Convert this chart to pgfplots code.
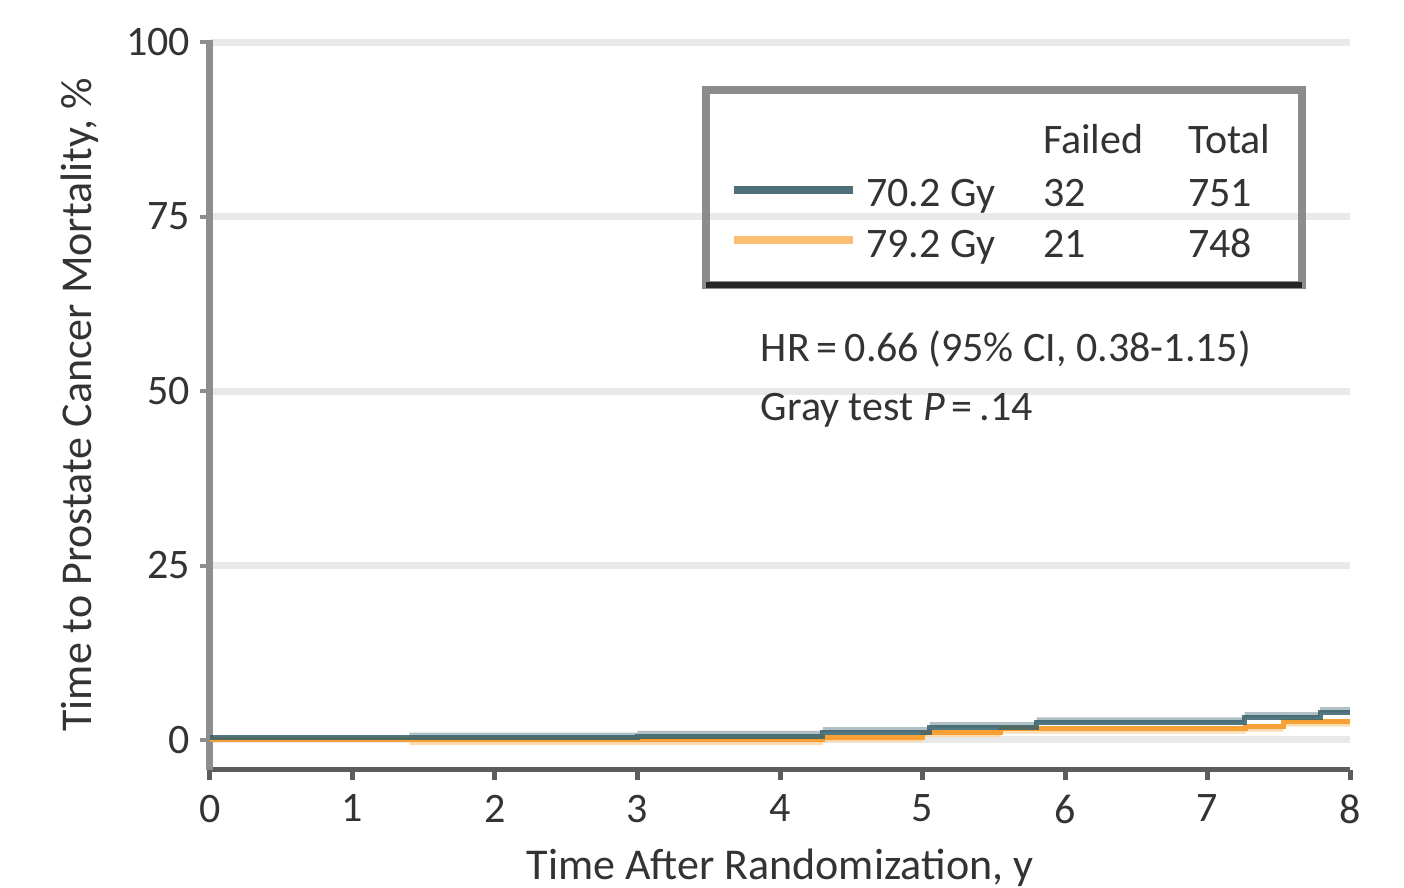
\documentclass[border=0pt]{standalone}
\usepackage{fontspec}
\setmainfont{Carlito}
\usepackage{pgfplots}
\pgfplotsset{compat=1.18}
\usepgfplotslibrary{fillbetween}
\definecolor{tealline}{HTML}{36606B}
\definecolor{tealband}{HTML}{9DB0B5}
\definecolor{orangeline}{HTML}{F7A035}
\definecolor{orangeband}{HTML}{FBD3A0}
\definecolor{legteal}{HTML}{4D7079}
\definecolor{legorange}{HTML}{F9BE72}
\definecolor{xaxc}{HTML}{5C5C5C}
\definecolor{yaxc}{HTML}{8E8E8E}
\definecolor{gridc}{HTML}{E9E9E9}
\definecolor{textc}{HTML}{333333}
\definecolor{boxc}{HTML}{8C8C8C}
\definecolor{boxdark}{HTML}{262626}
\begin{document}
\fontsize{10.5}{12}\selectfont
\begin{tikzpicture}
\begin{axis}[
  scale only axis, width=285pt, height=182.5pt,
  xmin=0, xmax=8, ymin=-4.3, ymax=100.3,
  axis lines=left, axis line style={-},
  x axis line style={draw=xaxc, line width=1.25pt},
  y axis line style={draw=yaxc, line width=1.75pt},
  xtick={0,1,2,3,4,5,6,7,8}, ytick={0,25,50,75,100},
  ymajorgrids, grid style={draw=gridc, line width=1.75pt},
  tick align=outside, major tick length=2.5pt,
  xtick style={draw=xaxc, line width=1.25pt},
  ytick style={draw=yaxc, line width=1pt},
  ticklabel style={font=\fontsize{10.5}{12}\selectfont, text=textc},
  yticklabel style={xshift=1.25pt},
  /pgf/number format/assume math mode=true,
  xlabel={Time After Randomization, y},
  ylabel={Time to Prostate Cancer Mortality, \%},
  label style={font=\fontsize{11}{13}\selectfont, text=textc},
  xlabel style={at={(axis description cs:0.5,-0.134)}, anchor=center},
  ylabel style={at={(axis description cs:-0.114,0.5)}, anchor=center},
  clip=false,
]
\coordinate (SW) at (rel axis cs:0,0);
% confidence bands
\addplot[name path=tu, draw=none, const plot, forget plot] coordinates {
 (1.4,1.05) (3.0,1.3) (4.30,1.85) (5.05,2.55) (5.8,3.25) (7.26,4.0) (7.79,4.7) (8,4.7)};
\addplot[name path=tl, draw=none, const plot, forget plot] coordinates {
 (1.4,0.3) (3.0,0.5) (4.30,1.1) (5.05,1.8) (5.8,2.5) (7.26,3.25) (7.79,3.97) (8,3.97)};
\addplot[fill=tealband, fill opacity=0.8, draw=none, forget plot] fill between[of=tu and tl];
\addplot[name path=ou, draw=none, const plot, forget plot] coordinates {
 (1.4,0) (4.30,0.4) (5.0,1.1) (5.55,1.6) (7.27,1.9) (7.53,2.6) (8,2.6)};
\addplot[name path=ol, draw=none, const plot, forget plot] coordinates {
 (1.4,-0.7) (4.30,-0.3) (5.0,0.4) (5.55,0.9) (7.27,1.2) (7.53,1.9) (8,1.9)};
\addplot[fill=orangeband, fill opacity=0.8, draw=none, forget plot] fill between[of=ou and ol];
% curves
\addplot[const plot, draw=orangeline, line width=1.25pt] coordinates {
 (0,0) (4.30,0.4) (5.0,1.1) (5.55,1.6) (7.27,1.9) (7.53,2.6) (8,2.6)};
\addplot[const plot, draw=tealline, line width=1.25pt, opacity=0.85] coordinates {
 (0,0.3) (3.0,0.5) (4.30,1.1) (5.05,1.8) (5.8,2.5) (7.26,3.25) (7.79,3.97) (8,3.97)};
% legend box
\draw[boxc, line width=2pt] (axis cs:3.48,65.2) rectangle (axis cs:7.66,93.1);
\draw[boxdark, line width=1.3pt] (axis cs:3.48,65.2) -- (axis cs:7.66,65.2);
\node[anchor=base west, inner sep=0pt, text=textc] at (axis cs:5.84,84.0) {Failed};
\node[anchor=base west, inner sep=0pt, text=textc] at (axis cs:6.86,84.0) {Total};
\draw[legteal, line width=2pt] (axis cs:3.68,78.8) -- (axis cs:4.51,78.8);
\draw[legorange, line width=2pt] (axis cs:3.68,71.6) -- (axis cs:4.51,71.6);
\node[anchor=base west, inner sep=0pt, text=textc] at (axis cs:4.60,76.4) {70.2 Gy};
\node[anchor=base west, inner sep=0pt, text=textc] at (axis cs:5.84,76.4) {32};
\node[anchor=base west, inner sep=0pt, text=textc] at (axis cs:6.86,76.4) {751};
\node[anchor=base west, inner sep=0pt, text=textc] at (axis cs:4.60,69.2) {79.2 Gy};
\node[anchor=base west, inner sep=0pt, text=textc] at (axis cs:5.84,69.2) {21};
\node[anchor=base west, inner sep=0pt, text=textc] at (axis cs:6.86,69.2) {748};
\node[anchor=base west, inner sep=0pt, text=textc] at (axis cs:3.86,54.2) {HR\,=\,0.66 (95\% CI, 0.38-1.15)};
\node[anchor=base west, inner sep=0pt, text=textc] at (axis cs:3.86,45.8) {Gray test \textit{P}\,=\,.14};
\end{axis}
\pgfresetboundingbox
\path ([shift={(-52.5pt,-29.5pt)}]SW) rectangle ([shift={(298.5pt,192.5pt)}]SW);
\end{tikzpicture}
\end{document}
